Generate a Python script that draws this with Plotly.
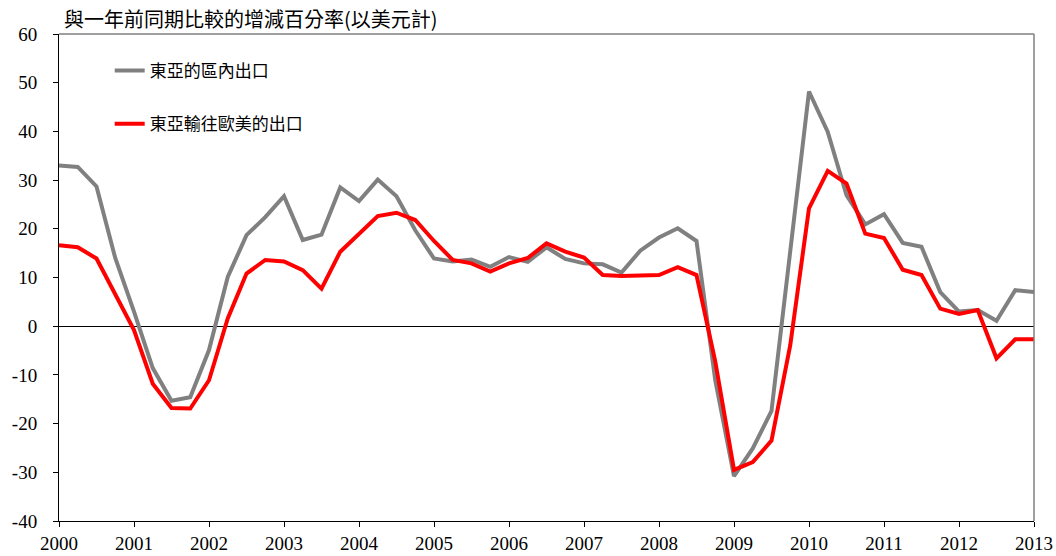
import plotly.graph_objects as go

# Quarterly observations, Q1 2000 .. Q1 2013
years_start = 2000
quarters = [years_start + i * 0.25 for i in range(53)]

intra_east_asia = [
    33.0, 32.7, 28.7, 14.0, 3.0, -8.6, -15.3, -14.6, -4.9, 10.1, 18.7, 22.4, 26.7,
    17.7, 18.8, 28.5, 25.7, 30.1, 26.7, 19.7, 13.9, 13.3, 13.7, 12.2, 14.2, 13.2,
    16.2, 13.8, 12.9, 12.7, 11.0, 15.5, 18.2, 20.1, 17.5, -11.1, -30.8, -25.1, -17.4,
    15.0, 48.2, 39.9, 26.9, 20.9, 23.0, 17.1, 16.3, 7.0, 3.0, 3.3, 1.1, 7.4, 7.0,
]
to_us_eu = [
    16.6, 16.2, 13.9, 6.5, -0.8, -11.8, -16.8, -16.9, -11.1, 1.6, 10.8, 13.6, 13.3,
    11.5, 7.7, 15.3, 19.0, 22.6, 23.3, 21.8, 17.5, 13.6, 12.9, 11.2, 12.9, 14.0,
    17.0, 15.3, 14.1, 10.5, 10.3, 10.5, 10.5, 12.1, 10.5, -7.2, -29.5, -27.9, -23.5,
    -3.9, 24.2, 31.9, 29.3, 19.0, 18.1, 11.6, 10.5, 3.6, 2.5, 3.3, -6.6, -2.7, -2.7,
]
series_names = ["東亞的區內出口", "東亞輸往歐美的出口"]
year_ticks = list(range(2000, 2014))
y_ticks = list(range(-40, 61, 10))
y_tick_text = [str(v) for v in y_ticks]  # plain hyphen minus as in the original
title_text = "與一年前同期比較的增減百分率(以美元計)"

SERIF = "Liberation Serif, Times New Roman, serif"
CJK = "Noto Sans CJK TC"

fig = go.Figure()
fig.add_trace(go.Scatter(
    x=quarters, y=intra_east_asia, mode="lines", name=series_names[0],
    line=dict(color="#808080", width=4), legendgroup="a",
))
fig.add_trace(go.Scatter(
    x=quarters, y=to_us_eu, mode="lines", name=series_names[1],
    line=dict(color="#ff0000", width=4), legendgroup="b",
))

fig.update_layout(
    width=1056, height=556,
    margin=dict(l=59, r=22, t=34, b=35),
    paper_bgcolor="white", plot_bgcolor="white",
    font=dict(family=SERIF, size=19, color="black"),
    showlegend=True,
    legend=dict(
        x=0.052, y=0.961, xanchor="left", yanchor="top",
        bgcolor="rgba(0,0,0,0)", borderwidth=0,
        font=dict(family=CJK, size=17, color="black"),
        tracegroupgap=28, itemwidth=30,
    ),
    xaxis=dict(
        range=[2000, 2013], tickmode="array", tickvals=year_ticks,
        ticktext=[str(y) for y in year_ticks],
        showgrid=False, zeroline=False, automargin=False,
        showline=True, linecolor="black", linewidth=1,
        ticks="outside", ticklen=5, tickcolor="black",
        tickfont=dict(family=SERIF, size=19),
    ),
    yaxis=dict(
        range=[-40, 60], tickmode="array", tickvals=y_ticks, ticktext=y_tick_text,
        showgrid=False, zeroline=True, zerolinecolor="black", zerolinewidth=1,
        showline=True, linecolor="black", linewidth=1, automargin=False,
        ticks="outside", ticklen=5, tickcolor="black", ticklabelstandoff=12,
        tickfont=dict(family=SERIF, size=19),
    ),
    shapes=[
        dict(type="line", xref="paper", yref="paper", x0=0, x1=1, y0=1, y1=1,
             line=dict(color="#7f7f7f", width=1.5)),
        dict(type="line", xref="paper", yref="paper", x0=1, x1=1, y0=0, y1=1,
             line=dict(color="#7f7f7f", width=1.5)),
    ],
    annotations=[
        dict(text=title_text, xref="paper", yref="paper", x=0.003, y=1.0,
             xanchor="left", yanchor="bottom", yshift=-1, showarrow=False,
             font=dict(family=CJK, size=20, color="black")),
    ],
)

fig.write_html(
    "out.html",
    config={"displayModeBar": False},
    post_script="document.body.style.margin='0';document.body.style.padding='0';",
)
